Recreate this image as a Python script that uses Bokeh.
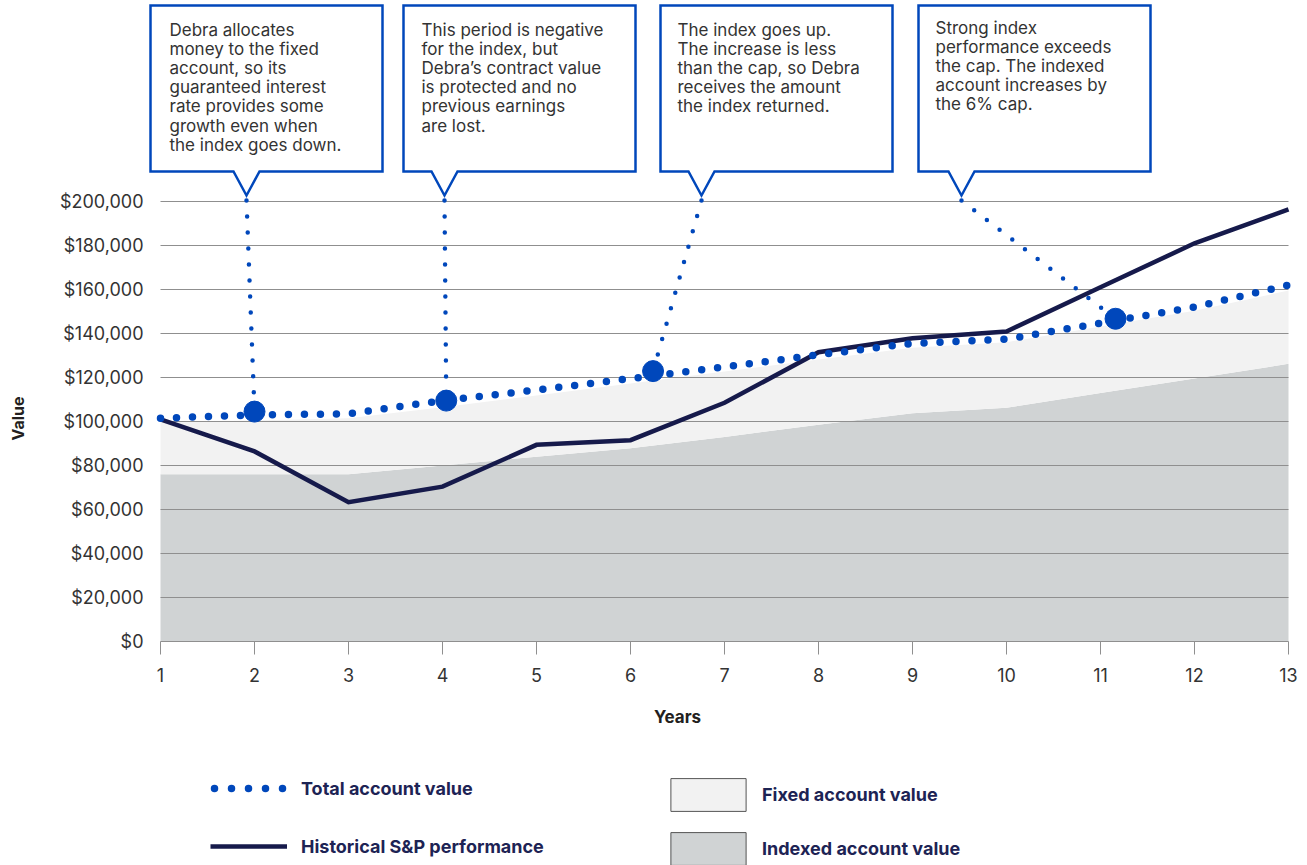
import math
from bokeh.plotting import figure
from bokeh.models import (Range1d, FixedTicker, NumeralTickFormatter, Legend, LegendItem,
                          Label, ColumnDataSource)
from bokeh.core.properties import value
from bokeh.embed import file_html
from bokeh.resources import INLINE

# ---------------- data ----------------
years = list(range(1, 14))
total_value = [101500, 103000, 103500, 109500, 114300, 119500, 124800, 130300,
               135500, 137400, 144700, 152000, 162000]
sp_performance = [101000, 86400, 63300, 70400, 89400, 91500, 108500, 131500,
                  137800, 140900, 161000, 181000, 196400]
indexed_value = [76000, 76000, 76000, 80000, 84000, 87800, 93000, 98500,
                 103800, 106200, 112900, 119500, 126200]
fixed_value = [24000, 24500, 25500, 26500, 27800, 29500, 29700, 29700,
               29700, 29800, 30300, 30800, 33300]
y_ticks = [0, 20000, 40000, 60000, 80000, 100000, 120000, 140000, 160000, 180000, 200000]

callout_year = [2.0, 4.04, 6.24, 11.16]
callout_value = [104500, 109500, 122900, 146700]
callout_texts = [
    "Debra allocates\nmoney to the fixed\naccount, so its\nguaranteed interest\nrate provides some\ngrowth even when\nthe index goes down.",
    "This period is negative\nfor the index, but\nDebra\u2019s contract value\nis protected and no\nprevious earnings\nare lost.",
    "The index goes up.\nThe increase is less\nthan the cap, so Debra\nreceives the amount\nthe index returned.",
    "Strong index\nperformance exceeds\nthe cap. The indexed\naccount increases by\nthe 6% cap.",
]

# ---------------- layout (screen calibration) ----------------
def yr(px):
    return 1 + (px - 160) / 94.0

def val(py):
    return (641 - py) / 2.2 * 1000

box_left_px = [150, 403, 660, 918]
text_pad_px = [19, 18, 17, 17]
text_top_px = [19.5, 19.5, 19.5, 17.5]
tip_px = [246, 444, 701, 961]
BOX_W = 232
BOX_TOP, BOX_BOT, TIP_Y, CONN_Y = 5, 171, 195, 200
TAIL_HW = 13

BLUE = "#0047BB"
NAVY = "#161A4B"
LIGHT = "#F2F2F2"
DARK = "#D0D3D4"
GRID = "#8F8F8F"
FONT = "Inter"

W, H = 1305, 865
AXIS_X = 147
p = figure(width=W, height=H, output_backend="svg", toolbar_location=None,
           x_range=Range1d(yr(0), yr(W)), y_range=Range1d(val(H), val(0)),
           min_border_left=0, min_border_right=0, min_border_top=0, min_border_bottom=0)
p.outline_line_color = None
p.xgrid.visible = False
p.ygrid.visible = False

# areas
tops = [i + f for i, f in zip(indexed_value, fixed_value)]
src = ColumnDataSource(dict(years=years, indexed=indexed_value, fixed=fixed_value))
areas = p.varea_stack(stackers=["indexed", "fixed"], x="years", color=[DARK, LIGHT], source=src)

# legend-only outlined swatches (same area data, not drawn on the chart)
fix_sw = p.patch(years + years[::-1], tops + indexed_value[::-1], fill_color=LIGHT,
                 line_color="#555555", line_width=1)
idx_sw = p.patch(years + years[::-1], indexed_value + [0] * len(years), fill_color=DARK,
                 line_color="#555555", line_width=1)
fix_sw.visible = False
idx_sw.visible = False

# grid lines
p.segment(x0=[years[0]] * len(y_ticks), x1=[years[-1]] * len(y_ticks), y0=y_ticks, y1=y_ticks,
          line_color=GRID, line_width=1.2)

# S&P line
sp_r = p.line(years, sp_performance, line_color=NAVY, line_width=4.5, line_join="miter")

# total value dotted line
tot_r = p.line(years, total_value, line_color=BLUE, line_width=7.5, line_dash="0 16",
               line_cap="round")
tot_sw = p.line(years, total_value, line_color=BLUE, line_width=7.5, line_dash="0 17",
                line_dash_offset=13, line_cap="round")
tot_sw.visible = False

# connectors
conn_xs = [[yr(t), x] for t, x in zip(tip_px, callout_year)]
conn_ys = [[val(CONN_Y), v] for v in callout_value]
p.multi_line(conn_xs, conn_ys, line_color=BLUE, line_width=4.5, line_dash="0 16",
             line_cap="round")

# big markers
p.scatter(callout_year, callout_value, size=21, color=BLUE)

# callout boxes
bx, by = [], []
for L, t in zip(box_left_px, tip_px):
    xs_px = [L, L + BOX_W, L + BOX_W, t + TAIL_HW, t, t - TAIL_HW, L]
    ys_px = [BOX_TOP, BOX_TOP, BOX_BOT, BOX_BOT, TIP_Y, BOX_BOT, BOX_BOT]
    bx.append([yr(v) for v in xs_px])
    by.append([val(v) for v in ys_px])
p.patches(bx, by, fill_color="white", line_color=BLUE, line_width=2.5, line_join="miter")

p.text(x=[yr(L + d) for L, d in zip(box_left_px, text_pad_px)],
       y=[val(t) for t in text_top_px], text=callout_texts,
       text_font=value(FONT), text_font_size="17px", text_color="#333333",
       text_baseline="top", text_align="left", text_line_height=0.955)

# axes
p.xaxis.fixed_location = 0
p.xaxis.ticker = FixedTicker(ticks=years)
p.xaxis.axis_line_color = None
p.xaxis.major_tick_out = 13
p.xaxis.major_tick_in = 0
p.xaxis.major_tick_line_color = GRID
p.xaxis.minor_tick_line_color = None
p.xaxis.major_label_standoff = 13
p.xaxis.major_label_text_font = FONT
p.xaxis.major_label_text_font_size = "18px"
p.xaxis.major_label_text_color = "#333333"

p.yaxis.fixed_location = yr(AXIS_X)
p.yaxis.ticker = FixedTicker(ticks=y_ticks)
p.yaxis.formatter = NumeralTickFormatter(format="$0,0")
p.yaxis.axis_line_color = None
p.yaxis.major_tick_out = 0
p.yaxis.major_tick_in = 0
p.yaxis.major_tick_line_color = None
p.yaxis.minor_tick_line_color = None
p.yaxis.major_label_standoff = 4
p.yaxis.major_label_text_font = FONT
p.yaxis.major_label_text_font_size = "18px"
p.yaxis.major_label_text_color = "#333333"

p.add_layout(Label(x=yr(17), y=val(418), text="Value", text_align="center",
                   text_baseline="middle", angle=math.pi / 2, text_font=FONT,
                   text_font_size="16px", text_font_style="bold", text_color="#231F20"))
p.add_layout(Label(x=yr(677), y=val(716), text="Years", text_align="center",
                   text_baseline="middle", text_font=FONT, text_font_size="17px",
                   text_font_style="bold", text_color="#231F20"))

def style_legend(lg):
    lg.border_line_color = None
    lg.background_fill_alpha = 0
    lg.padding = 0
    lg.margin = 0
    lg.label_text_font = FONT
    lg.label_text_font_size = "18px"
    lg.label_text_font_style = "bold"
    lg.label_text_color = "#1D2354"

lg1 = Legend(items=[LegendItem(label="Total account value", renderers=[tot_sw]),
                    LegendItem(label="Historical S&P performance", renderers=[sp_r])],
             location=(210, 8), glyph_width=77, glyph_height=22, spacing=36,
             label_standoff=14)
style_legend(lg1)
lg2 = Legend(items=[LegendItem(label="Fixed account value", renderers=[areas[1], fix_sw]),
                    LegendItem(label="Indexed account value", renderers=[areas[0], idx_sw])],
             location=(661, -4), glyph_width=94, glyph_height=41, spacing=13,
             label_standoff=7)
style_legend(lg2)
p.add_layout(lg1)
p.add_layout(lg2)

open("out.html", "w").write(file_html(p, INLINE))
